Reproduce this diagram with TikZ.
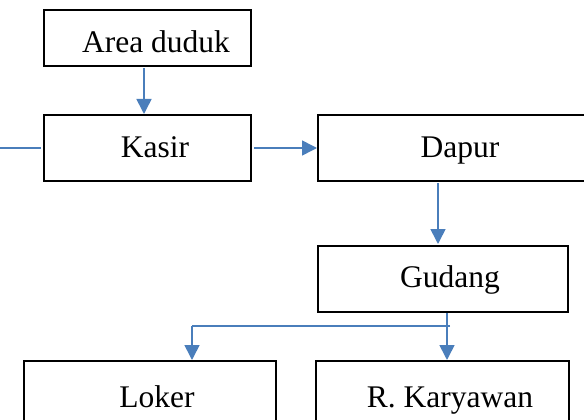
\documentclass[tikz,border=0pt]{standalone}
\usepackage{fontspec}
\setmainfont{Liberation Serif}
\usetikzlibrary{arrows.meta,calc}
\definecolor{flowblue}{HTML}{4A7EBB}
\begin{document}
\begin{tikzpicture}[x=1pt,y=-1pt,
  box/.style={draw=black,line width=2pt,rectangle,inner sep=0pt,
    text height=22pt,text depth=0pt,
    font=\fontsize{31.5}{36}\selectfont},
  flow/.style={draw=flowblue,line width=1.6pt},
  arr/.style={flow,-{Triangle[length=15pt,width=15pt]}}]
\useasboundingbox[clip] (0,0) rectangle (584,420);
\node[box,minimum width=207pt,minimum height=56pt] (area) at (147.5,38) {\raisebox{-3pt}{\hspace*{17pt}Area duduk}};
\node[box,minimum width=207pt,minimum height=66pt] (kasir) at (147.5,148) {\raisebox{2pt}{\hspace*{15pt}Kasir}};
\node[box,minimum width=268pt,minimum height=66pt] (dapur) at (452,148) {\raisebox{2pt}{\hspace*{16pt}Dapur}};
\node[box,minimum width=250pt,minimum height=66pt] (gudang) at (443,279) {\raisebox{3pt}{\hspace*{14pt}Gudang}};
\node[box,minimum width=252pt,minimum height=66pt] (loker) at (150,394) {\raisebox{-2.5pt}{\hspace*{14pt}Loker}};
\node[box,minimum width=253pt,minimum height=66pt] (kary) at (442.5,394) {\raisebox{-2.5pt}{\hspace*{15pt}R. Karyawan}};
\coordinate (lft) at (0,148);
\coordinate (dg) at (438,200);
\coordinate (split) at (447,326);
\coordinate (splitend) at (450,326);
\coordinate (lokerturn) at (192,326);
\draw[flow,shorten >=2pt] (lft) -- (kasir.west);
\draw[arr,shorten <=1pt] ([xshift=-3.5pt]area.south) -- ([xshift=-3.5pt]kasir.north);
\draw[arr,shorten <=2pt] (kasir.east) -- (dapur.west);
\draw[arr,shorten <=1pt,shorten >=1pt] (dg |- dapur.south) -- (dg |- gudang.north);
\draw[flow] ([xshift=4pt]gudang.south) -- (split);
\draw[flow] (splitend) -- (lokerturn);
\draw[arr] (lokerturn) -- (lokerturn |- loker.north);
\draw[arr] (split) -- (split |- kary.north);
\end{tikzpicture}
\end{document}
